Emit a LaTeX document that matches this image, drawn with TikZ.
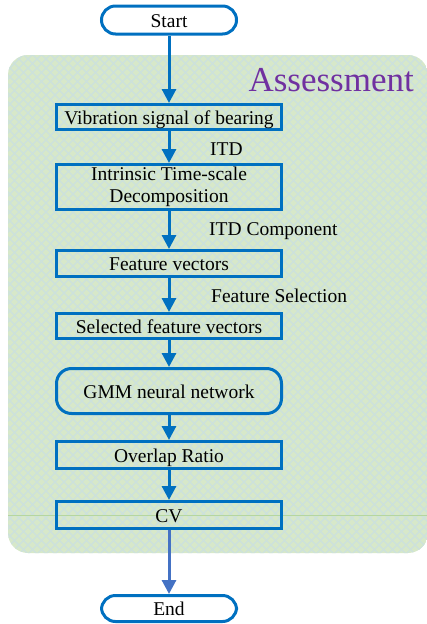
\documentclass[tikz,border=0pt]{standalone}
\usepackage{fontspec}
\setmainfont{Liberation Serif}
\usetikzlibrary{arrows.meta}
\definecolor{boxblue}{HTML}{0070C0}
\definecolor{endblue}{HTML}{4472C4}
\definecolor{panelgreen}{HTML}{D7E8C9}
\definecolor{hatch}{HTML}{CCE1DD}
\definecolor{faintline}{HTML}{B5D6A0}
\definecolor{titlepurple}{HTML}{7030A0}
\tikzset{
  flowbox/.style={draw=boxblue, line width=3pt, minimum width=225pt, inner sep=0pt, align=center, font=\fontsize{19.5}{22.3}\selectfont},
  termbox/.style={draw=boxblue, line width=3pt, minimum width=135pt, rounded corners=14pt, inner sep=0pt, font=\fontsize{19.5}{22}\selectfont},
  oneline/.style={text height=14pt, text depth=0pt},
  flowarrow/.style={draw=boxblue, line width=3pt, -{Triangle[width=14pt,length=14pt]}},
  steplabel/.style={anchor=base west, inner sep=0pt, font=\fontsize{19.5}{22}\selectfont},
}
\begin{document}
\begin{tikzpicture}[x=1pt,y=-1pt]
\useasboundingbox (0,0) rectangle (427,624);
% panel
\begin{scope}
  \clip[rounded corners=20pt] (8,55) rectangle (428,553);
  \fill[panelgreen] (0,0) rectangle (440,600);
  \foreach \i in {-720,-711,...,450} {
    \draw[hatch, line width=1.1pt] (\i,40) -- ++(560,560);
    \draw[hatch, line width=1.1pt] (\i+560,40) -- ++(-560,560);
  }
  \draw[faintline, line width=1pt] (8,515) -- (428,515);
\end{scope}
\node[text=titlepurple, anchor=base east, inner sep=0pt, font=\fontsize{35}{38}\selectfont] (title) at (414,91) {Assessment};
% nodes
\node[termbox, oneline, minimum height=28pt] (start) at (169,20) {Start};
\node[flowbox, oneline, minimum height=25pt] (vib) at (169,117) {Vibration signal of bearing};
\node[flowbox, minimum height=45pt] (itd) at (169,187) {Intrinsic Time-scale\\Decomposition};
\node[flowbox, oneline, minimum height=26pt] (feat) at (169,263.5) {Feature vectors};
\node[flowbox, oneline, minimum height=25pt] (sel) at (169,326) {Selected feature vectors};
\node[flowbox, oneline, minimum height=45pt, rounded corners=15pt] (gmm) at (169,391) {GMM neural network};
\node[flowbox, oneline, minimum height=27pt] (ovl) at (169,455) {Overlap Ratio};
\node[flowbox, oneline, minimum height=27pt] (cv) at (169,515) {CV};
\node[termbox, oneline, minimum height=26pt] (end) at (169,608.5) {End};
% labels
\node[steplabel] (litd) at (210,155.3) {ITD};
\node[steplabel] (lcomp) at (209,235.3) {ITD Component};
\node[steplabel] (lsel) at (211,302) {Feature Selection};
% arrows
\draw[flowarrow] (start) -- (vib);
\draw[flowarrow] (vib) -- (itd);
\draw[flowarrow] (itd) -- (feat);
\draw[flowarrow] (feat) -- (sel);
\draw[flowarrow] (sel) -- (gmm);
\draw[flowarrow] (gmm) -- (ovl);
\draw[flowarrow] (ovl) -- (cv);
\draw[flowarrow, draw=endblue] (cv) -- (end);
\end{tikzpicture}
\end{document}
